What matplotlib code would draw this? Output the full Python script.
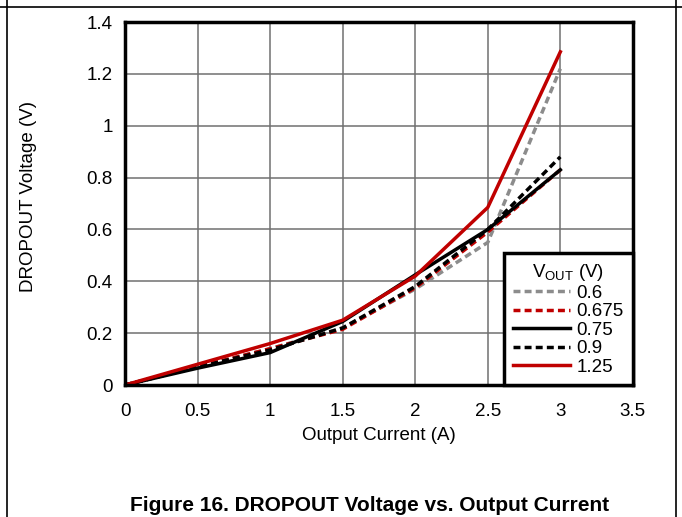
import matplotlib
matplotlib.use('Agg')
import matplotlib.pyplot as plt
from matplotlib.lines import Line2D

plt.rcParams['font.family'] = ['Liberation Sans', 'DejaVu Sans']

# data
current = [0, 0.5, 1, 1.5, 2, 2.5, 3]  # A
vout_labels = ['0.6', '0.675', '0.75', '0.9', '1.25']
drop_060 = [0, 0.07, 0.14, 0.22, 0.37, 0.55, 1.22]
drop_0675 = [0, 0.07, 0.14, 0.215, 0.375, 0.59, 0.83]
drop_075 = [0, 0.065, 0.125, 0.245, 0.425, 0.60, 0.83]
drop_090 = [0, 0.07, 0.135, 0.22, 0.38, 0.60, 0.88]
drop_125 = [0, 0.08, 0.16, 0.25, 0.42, 0.685, 1.285]

xticks = [0, 0.5, 1, 1.5, 2, 2.5, 3, 3.5]
xtick_labels = ['0', '0.5', '1', '1.5', '2', '2.5', '3', '3.5']
yticks = [0, 0.2, 0.4, 0.6, 0.8, 1.0, 1.2, 1.4]
ytick_labels = ['0', '0.2', '0.4', '0.6', '0.8', '1', '1.2', '1.4']

fs = 13.5
dash = (0, (2.0, 1.2))

fig = plt.figure(figsize=(6.82, 5.17), dpi=100)
ax = fig.add_axes([0.1833, 0.2553, 0.7447, 0.7021])

series = [drop_060, drop_0675, drop_075, drop_090, drop_125]
styles = [('#8c8c8c', dash), ('#c00000', dash),
          ('black', '-'), ('black', dash), ('#c00000', '-')]
for vals, lab, (col, ls) in zip(series, vout_labels, styles):
    ax.plot(current, vals, color=col, linestyle=ls, lw=2.5, label=lab)

ax.set_xlim(0, 3.5)
ax.set_ylim(0, 1.4)
ax.set_xticks(xticks)
ax.set_xticklabels(xtick_labels)
ax.set_yticks(yticks)
ax.set_yticklabels(ytick_labels)
ax.tick_params(length=0, labelsize=fs)
ax.tick_params(axis='x', pad=13)
ax.tick_params(axis='y', pad=9)
ax.grid(True, color='#707070', lw=1.1)
ax.set_axisbelow(True)
for sp in ax.spines.values():
    sp.set_linewidth(2.5)
ax.set_xlabel('Output Current (A)', fontsize=fs, labelpad=5)
ax.set_ylabel('DROPOUT Voltage (V)', fontsize=fs)
ax.yaxis.set_label_coords(-0.173, 0.52)

leg = ax.legend(title=r'V$_{\mathregular{OUT}}$ (V)', loc='lower right',
                borderaxespad=0, fontsize=fs, title_fontsize=fs,
                handlelength=3.0, handletextpad=0.35, labelspacing=0.07,
                fancybox=False, framealpha=1, borderpad=0.5)
leg.get_frame().set_edgecolor('black')
leg.get_frame().set_linewidth(2.5)

fig.text(0.5425, 0.0232, 'Figure 16. DROPOUT Voltage vs. Output Current',
         ha='center', va='center', fontsize=15, fontweight='bold')

# page frame lines
fig.add_artist(Line2D([0, 1], [0.9865, 0.9865], color='black', lw=1.2))
fig.add_artist(Line2D([0.0103, 0.0103], [0, 1], color='black', lw=1.2))
fig.add_artist(Line2D([0.991, 0.991], [0, 1], color='black', lw=1.2))

fig.savefig('out.png', dpi=100)
